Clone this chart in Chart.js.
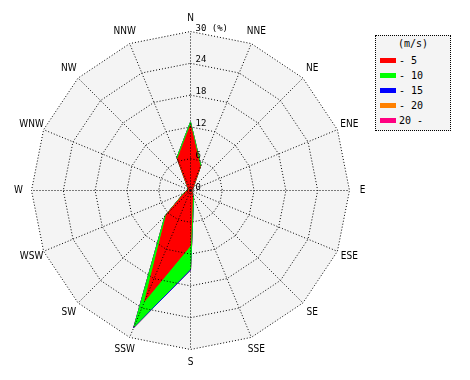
<!DOCTYPE html>
<html><head><meta charset="utf-8">
<script src="https://cdn.jsdelivr.net/npm/chart.js@4/dist/chart.umd.min.js"></script>
<style>
html,body{margin:0;padding:0;background:#fff;}
#wrap{position:relative;width:470px;height:380px;overflow:hidden;}
#c{position:absolute;left:0;top:0;}
#legend{position:absolute;left:375px;top:35px;width:74px;height:94px;border:1px dotted #000;background:#f4f4f4;font:10px "DejaVu Sans Mono",monospace;color:#000;}
#legend .t{position:absolute;left:0;width:74px;top:2px;text-align:center;line-height:12px;color:#000;}
#legend .r{position:absolute;left:4px;height:12px;line-height:12px;white-space:pre;color:#000;}
#legend .s{display:inline-block;width:16px;height:5px;vertical-align:middle;margin-right:3px;position:relative;top:-1px;}
</style></head>
<body><div id="wrap"><canvas id="c" width="470" height="380"></canvas><div id="legend"></div></div>
<script>
const directions = ['N','NNE','NE','ENE','E','ESE','SE','SSE','S','SSW','SW','WSW','W','WNW','NW','NNW'];
const speedClasses = ['- 5','- 10','- 15','- 20','20 -'];
const classColors = ['#ff0000','#00ff00','#0000ff','#ff8000','#ff0080'];
const pct0to5   = [12.3, 4.8, 0.6, 0.3, 0.3, 0.3, 0.4, 1.0, 10.4, 22.5, 6.4, 1.2, 0.6, 0.4, 0.6, 6.4];
const pct5to10  = [0.6, 0.3, 0.1, 0.0, 0.0, 0.0, 0.1, 0.5, 4.4, 5.3, 0.4, 0.2, 0.1, 0.1, 0.1, 0.3];
const pct10to15 = [0.0, 0.0, 0.0, 0.0, 0.0, 0.0, 0.0, 0.05, 0.2, 0.2, 0.0, 0.0, 0.0, 0.0, 0.0, 0.0];
const pct15to20 = [0, 0, 0, 0, 0, 0, 0, 0, 0, 0, 0, 0, 0, 0, 0, 0];
const pct20up   = [0, 0, 0, 0, 0, 0, 0, 0, 0, 0, 0, 0, 0, 0, 0, 0];
const radialTicks = [0, 6, 12, 18, 24, 30];
const unitLabel = '(%)';
const legendTitle = '(m/s)';

const classes = [pct0to5, pct5to10, pct10to15, pct15to20, pct20up];
const cumulative = [];
classes.forEach((arr, k) => {
  cumulative.push(arr.map((v, i) => v + (k > 0 ? cumulative[k-1][i] : 0)));
});

const datasets = cumulative.map((d, k) => ({
  label: speedClasses[k],
  data: d,
  backgroundColor: classColors[k],
  borderColor: classColors[k],
  borderWidth: 1,
  fill: 'origin',
  pointRadius: 0,
  tension: 0
}));

const bgPlugin = {
  id: 'bg',
  beforeDraw(chart) {
    chart.ctx.save();
    chart.ctx.translate(0.5, 0.5);
  },
  beforeDatasetsDraw(chart) {
    const s = chart.scales.r, ctx = chart.ctx;
    ctx.save();
    ctx.beginPath();
    for (let i = 0; i < directions.length; i++) {
      const p = s.getPointPosition(i, s.drawingArea);
      if (i === 0) ctx.moveTo(p.x, p.y); else ctx.lineTo(p.x, p.y);
    }
    ctx.closePath();
    ctx.fillStyle = '#f4f4f4';
    ctx.fill();
    ctx.restore();
  },
  afterDraw(chart) {
    const s = chart.scales.r, ctx = chart.ctx;
    ctx.save();
    ctx.fillStyle = '#000';
    ctx.font = '10px "Liberation Sans Narrow","DejaVu Sans Condensed",sans-serif';
    ctx.textAlign = 'center';
    ctx.textBaseline = 'middle';
    directions.forEach((lab, i) => {
      const p = s.getPointPosition(i, s.drawingArea + 13);
      ctx.fillText(lab, p.x, p.y);
    });
    ctx.font = '9px "DejaVu Sans Mono",monospace';
    ctx.textAlign = 'left';
    ctx.textBaseline = 'alphabetic';
    radialTicks.forEach(v => {
      const y = s.yCenter - s.getDistanceFromCenterForValue(v);
      const t = v === radialTicks[radialTicks.length-1] ? v + ' ' + unitLabel : String(v);
      ctx.fillText(t, s.xCenter + 5, y - 1);
    });
    ctx.restore();
    ctx.restore();
  }
};

new Chart(document.getElementById('c'), {
  type: 'radar',
  data: { labels: directions, datasets },
  options: {
    responsive: false,
    animation: false,
    devicePixelRatio: 1,
    layout: { padding: { left: 31, top: 31, right: 121, bottom: 31 } },
    plugins: { legend: { display: false }, tooltip: { enabled: false } },
    scales: {
      r: {
        min: 0, max: 30,
        ticks: { display: false, stepSize: 6 },
        pointLabels: { display: false },
        grid: { color: '#000', lineWidth: 1, z: 1 },
        border: { dash: [1, 2] },
        angleLines: { color: '#000', lineWidth: 1, borderDash: [1, 2] }
      }
    }
  },
  plugins: [bgPlugin]
});

const lg = document.getElementById('legend');
const t = document.createElement('div'); t.className = 't'; t.textContent = legendTitle; lg.appendChild(t);
speedClasses.forEach((lab, k) => {
  const r = document.createElement('div'); r.className = 'r';
  r.style.top = (19 + k * 15) + 'px';
  const sw = document.createElement('span'); sw.className = 's'; sw.style.background = classColors[k];
  r.appendChild(sw);
  r.appendChild(document.createTextNode(lab));
  lg.appendChild(r);
});
</script></body></html>
